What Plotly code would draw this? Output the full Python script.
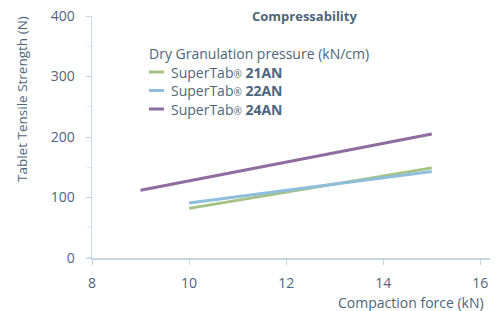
import plotly.graph_objects as go

force_21 = [10, 15]
strength_21 = [82, 149]
force_22 = [10, 15]
strength_22 = [91, 143]
force_24 = [9, 15]
strength_24 = [112, 205]

series_names = ["SuperTab<span style='font-size:10px'>®</span> <b>21AN</b>",
                "SuperTab<span style='font-size:10px'>®</span> <b>22AN</b>",
                "SuperTab<span style='font-size:10px'>®</span> <b>24AN</b>"]
colors = ["#a3c283", "#8fbedd", "#8f6c9f"]
x_ticks = [8, 10, 12, 14, 16]
y_ticks = [0, 100, 200, 300, 400]

txt = "#4d667b"
axis_col = "#c3d7e7"
font = "Open Sans"

W, H = 504, 311
L, R, T, B = 92, 14, 16, 53
PW, PH = W - L - R, H - T - B


def px(xp):
    return (xp - L) / PW


def py(yp):
    return (H - B - yp) / PH


fig = go.Figure()
for xs, ys, n, c in [(force_21, strength_21, series_names[0], colors[0]),
                     (force_22, strength_22, series_names[1], colors[1]),
                     (force_24, strength_24, series_names[2], colors[2])]:
    fig.add_trace(go.Scatter(x=xs, y=ys, mode="lines", name=n,
                             line=dict(color=c, width=3), showlegend=False,
                             hoverinfo="skip"))

annotations = [
    dict(text="<b>Compressability</b>", x=px(304), y=py(16), xref="paper", yref="paper",
         xanchor="center", yanchor="middle", showarrow=False, font=dict(size=13, color=txt)),
    dict(text="Compaction force (kN)", x=px(486), y=py(302), xref="paper", yref="paper",
         xanchor="right", yanchor="middle", showarrow=False, font=dict(size=14, color=txt)),
    dict(text="Tablet Tensile Strength (N)", x=px(22), y=py(99), xref="paper", yref="paper",
         xanchor="center", yanchor="middle", textangle=-90, showarrow=False,
         font=dict(size=13.5, color=txt)),
    dict(text="Dry Granulation pressure (kN/cm)", x=px(147), y=py(53), xref="paper", yref="paper",
         xanchor="left", yanchor="middle", showarrow=False, font=dict(size=14, color=txt)),
]
shapes = [dict(type="line", xref="paper", yref="paper", x0=px(87), x1=px(92),
               y0=0, y1=0, line=dict(color=axis_col, width=1.5))]
rows = [72, 90.5, 109]
for n, c, r in zip(series_names, colors, rows):
    shapes.append(dict(type="line", xref="paper", yref="paper",
                       x0=px(149), x1=px(164), y0=py(r), y1=py(r),
                       line=dict(color=c, width=3)))
    annotations.append(dict(text=n, x=px(169), y=py(r), xref="paper", yref="paper",
                            xanchor="left", yanchor="middle", showarrow=False,
                            font=dict(size=14, color=txt)))

fig.update_layout(
    width=W, height=H,
    margin=dict(l=L, r=R, t=T, b=B, autoexpand=False),
    paper_bgcolor="white", plot_bgcolor="white",
    font=dict(family=font, size=14, color=txt),
    showlegend=False,
    hovermode=False,
    xaxis=dict(range=[8, 16.2], tickvals=x_ticks, showgrid=False,
               zeroline=False, showline=True, linecolor=axis_col, linewidth=1.5,
               ticks="outside", tickcolor=axis_col, ticklen=5, tickwidth=1,
               ticklabelstandoff=7,
               tickfont=dict(size=14, color=txt)),
    yaxis=dict(range=[0, 400], tickvals=y_ticks, showgrid=False,
               zeroline=False, showline=True, linecolor=axis_col, linewidth=1.5,
               ticks="outside", tickcolor=axis_col, ticklen=5, tickwidth=1,
               ticklabelstandoff=8,
               minor=dict(dtick=50, ticks="outside", ticklen=4, tickcolor="#e1eaf2"),
               tickfont=dict(size=14, color=txt)),
    annotations=annotations,
    shapes=shapes,
)
fig.write_html("out.html", config={"displayModeBar": False, "staticPlot": True},
               post_script="document.body.style.margin='0';")
